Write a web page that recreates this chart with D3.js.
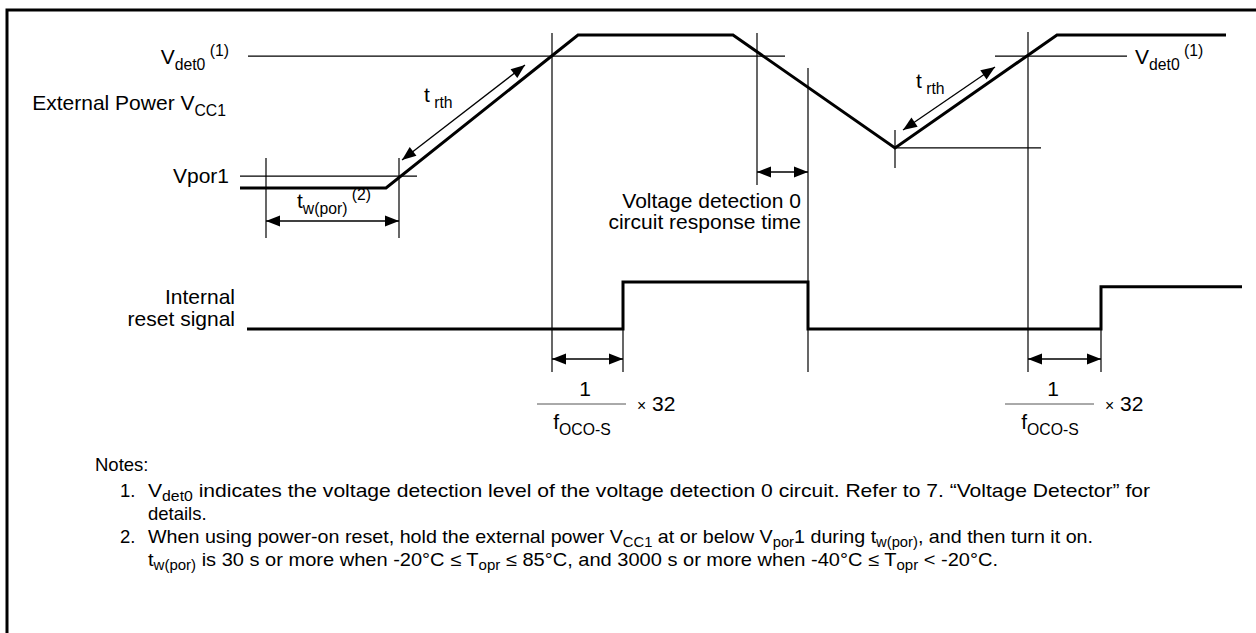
<!DOCTYPE html>
<html>
<head>
<meta charset="utf-8">
<script src="https://cdn.jsdelivr.net/npm/d3@7/dist/d3.min.js"></script>
<style>
  body { margin: 0; background: #fff; }
  text { font-family: Arial, "Liberation Sans", Helvetica, sans-serif; fill: #000; }
</style>
</head>
<body>
<svg id="chart" width="1256" height="633"></svg>
<script>
// time is in arbitrary diagram units (0..100), levels in volts-ish units
const vccTime = [0, 14.6, 33.8, 49.3, 65.5, 81.7, 98.6];
const vccLevel = [0, 0, 5, 5, 1.31, 5, 5];
const vdet0Level = 4.31;
const vpor1Level = 0.39;

const resetTime = [0.7, 38.3, 38.3, 56.8, 56.8, 86.1, 86.1, 100.2];
const resetLevel = [0, 0, 1, 1, 0, 0, 0.9, 0.9];

// event times
const tPorStart = 2.6;
const tPorEnd = 15.9;
const tDet1 = 31.2; // Vcc crosses Vdet0 rising
const tDetFall = 51.7; // Vcc crosses Vdet0 falling
const tResetFall = 56.8; // reset asserted after response time
const tDip = 65.5;
const tDet2 = 78.8; // second rising crossing
const tRelease1 = 38.3;
const tRelease2 = 86.1;

const svg = d3.select('#chart');
const x = d3.scaleLinear().domain([0, 100]).range([240, 1240]);
const yV = d3.scaleLinear().domain([0, 5]).range([188, 35]);
const yR = d3.scaleLinear().domain([0, 1]).range([329, 282]);

// frame
svg.append('rect')
    .attr('x', 7).attr('y', 10)
    .attr('width', 1300).attr('height', 700)
    .attr('fill', 'none').attr('stroke', '#000').attr('stroke-width', 3);

const g = svg.append('g');

function hline(x1, x2, y, w = 1.2) {
  g.append('line').attr('x1', x1).attr('x2', x2).attr('y1', y).attr('y2', y)
      .attr('stroke', '#000').attr('stroke-width', w);
}
function vline(xx, y1, y2, w = 1.2) {
  g.append('line').attr('x1', xx).attr('x2', xx).attr('y1', y1).attr('y2', y2)
      .attr('stroke', '#000').attr('stroke-width', w);
}

function head(px, py, ang) {
  const L = 14; const hw = 5.5;
  const c = Math.cos(ang); const s = Math.sin(ang);
  const bx = px - L * c; const by = py - L * s;
  g.append('path')
      .attr('d', `M${px},${py}L${bx - hw * s},${by + hw * c}L${bx + hw * s},${by - hw * c}Z`)
      .attr('fill', '#000');
}
// double-headed arrow
function arrow(x1, y1, x2, y2) {
  const ang = Math.atan2(y2 - y1, x2 - x1);
  g.append('line').attr('x1', x1).attr('y1', y1).attr('x2', x2).attr('y2', y2)
      .attr('stroke', '#000').attr('stroke-width', 1.3);
  head(x2, y2, ang);
  head(x1, y1, ang + Math.PI);
}

// text with sub / superscripts: parts = [[str, 'n'|'sm'|'sub'|'sup'], ...]
function rich(sel, tx, ty, parts, size, anchor = 'start', subShift = 0.28) {
  const t = sel.append('text').attr('x', tx).attr('y', ty)
      .attr('font-size', size).attr('text-anchor', anchor);
  let shift = 0;
  parts.forEach(([s, k]) => {
    const target = k === 'sub' ? size * subShift : k === 'sup' ? -size * 0.38 : 0;
    t.append('tspan')
        .attr('dy', target - shift)
        .attr('font-size', k === 'n' ? size : size * 0.75)
        .text(s);
    shift = target;
  });
  return t;
}

// threshold lines
hline(248, 785, yV(vdet0Level));
hline(x(75.5), x(88.7), yV(vdet0Level));
hline(240, 417, yV(vpor1Level));
hline(x(tDip), x(80.1), yV(1.31));

// time markers
vline(x(tPorStart), 158, 238);
vline(x(tPorEnd), 158, 238);
vline(x(tDet1), 33, 372);
vline(x(tDetFall), 33, 185);
vline(x(tResetFall), 68, 372);
vline(x(tDet2), 32, 372);
vline(x(tRelease1), yR(0), 372);
vline(x(tRelease2), yR(0), 372);
vline(x(tDip), 130, 168);

// Vcc waveform
const line = d3.line();
g.append('path')
    .attr('d', line(vccTime.map((t, i) => [x(t), yV(vccLevel[i])])))
    .attr('fill', 'none').attr('stroke', '#000').attr('stroke-width', 3)
    .attr('stroke-linejoin', 'miter');

// reset waveform
g.append('path')
    .attr('d', line(resetTime.map((t, i) => [x(t), yR(resetLevel[i])])))
    .attr('fill', 'none').attr('stroke', '#000').attr('stroke-width', 3);

// arrows
arrow(x(tPorStart), 221, x(tPorEnd), 221);
arrow(402, 160, 525, 65);
arrow(903, 130, 995, 67);
arrow(x(tDetFall), 172, x(tResetFall), 172);
arrow(x(tDet1), 359, x(tRelease1), 359);
arrow(x(tDet2), 359, x(tRelease2), 359);

// labels
const fs = 21;
rich(g, 229, 64, [['V', 'n'], ['det0', 'sub'], [' (1)', 'sup']], fs, 'end');
rich(g, 1135, 64, [['V', 'n'], ['det0', 'sub'], [' (1)', 'sup']], fs);
rich(g, 226, 110, [['External Power V', 'n'], ['CC1', 'sub']], fs, 'end');
rich(g, 229, 183, [['Vpor1', 'n']], fs, 'end');
rich(g, 424, 102, [['t', 'n'], [' rth', 'sub']], fs);
rich(g, 916, 88, [['t', 'n'], [' rth', 'sub']], fs);
rich(g, 334, 208, [['t', 'n'], ['w(por)', 'sub'], [' (2)', 'sup']], fs, 'middle');
rich(g, 801, 208, [['Voltage detection 0', 'n']], fs, 'end');
rich(g, 801, 229, [['circuit response time', 'n']], fs, 'end');
rich(g, 235, 304, [['Internal', 'n']], fs, 'end');
rich(g, 235, 326, [['reset signal', 'n']], fs, 'end');

function fraction(cx) {
  g.append('line').attr('x1', cx - 45).attr('x2', cx + 44)
      .attr('y1', 404).attr('y2', 404).attr('stroke', '#555').attr('stroke-width', 1);
  rich(g, cx + 3, 396, [['1', 'n']], fs, 'middle');
  rich(g, cx, 429, [['f', 'n'], ['OCO-S', 'sub']], fs, 'middle');
  rich(g, cx + 55, 411, [['\u00d7', 'sm'], [' 32', 'n']], fs);
}
fraction(582);
fraction(1050);

// notes: long lines fitted to the widths
const nfs = 18.5;
const notes = svg.append('g');
function fit(t, w) {
  t.attr('textLength', w).attr('lengthAdjust', 'spacingAndGlyphs');
}
rich(notes, 95, 471, [['Notes:', 'n']], nfs);
rich(notes, 120, 497, [['1.', 'n']], nfs);
fit(rich(notes, 148, 497, [['V', 'n'], ['det0', 'sub'],
  [' indicates the voltage detection level of the voltage detection 0 circuit. Refer to 7. \u201cVoltage Detector\u201d for', 'n']],
nfs, 'start', 0.22), 1002);
rich(notes, 148, 520, [['details.', 'n']], nfs);
rich(notes, 120, 543, [['2.', 'n']], nfs);
fit(rich(notes, 148, 543, [['When using power-on reset, hold the external power V', 'n'], ['CC1', 'sub'],
  [' at or below V', 'n'], ['por', 'sub'], ['1 during t', 'n'], ['w(por)', 'sub'],
  [', and then turn it on.', 'n']], nfs, 'start', 0.22), 945);
fit(rich(notes, 148, 566, [['t', 'n'], ['w(por)', 'sub'],
  [' is 30 s or more when -20\u00b0C \u2264 T', 'n'], ['opr', 'sub'],
  [' \u2264 85\u00b0C, and 3000 s or more when -40\u00b0C \u2264 T', 'n'], ['opr', 'sub'],
  [' < -20\u00b0C.', 'n']], nfs, 'start', 0.22), 850);
</script>
</body>
</html>
